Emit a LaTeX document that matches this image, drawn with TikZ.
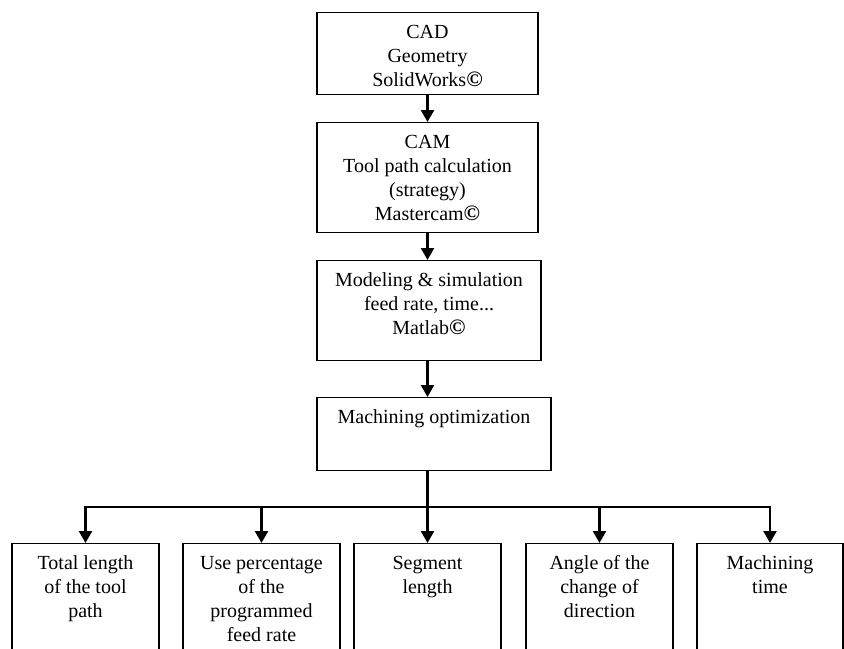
\documentclass[tikz,border=0pt]{standalone}
\usepackage{fontspec}
\setmainfont{Liberation Serif}
\usetikzlibrary{
    arrows.meta,
    positioning
}
\newcommand{\copysign}{{\bfseries\fontsize{11}{12}\selectfont ©}}
\tikzset{
    box/.style={draw, line width=0.7pt, anchor=north, inner xsep=0pt, inner ysep=4.5pt,
        font=\fontsize{10}{12}\selectfont},
    flow/.style={line width=1.2pt, -{Triangle[length=6pt, width=6.5pt]}}
}

\begin{document}
\begin{tikzpicture}[x=0.5pt, y=-0.5pt]
    \useasboundingbox (0,0) rectangle (844,648);
    \clip (0,0) rectangle (844,648);

    % main chain
    \node (cad) [box] at (427.5, 12) {\parbox[t][32pt][t]{110.5pt}{\centering\strut CAD\\Geometry\\SolidWorks\copysign}};
    \node (cam) [box] at (427.5, 122) {\parbox[t][46pt][t]{110.5pt}{\centering\strut CAM\\Tool path calculation\\(strategy)\\Mastercam\copysign}};
    \node (model) [box] at (429, 260) {\parbox[t][41pt][t]{112pt}{\centering\strut Modeling \& simulation\\feed rate, time...\\Matlab\copysign}};
    \node (opt) [box] at (434, 397) {\parbox[t][27.5pt][t]{117pt}{\centering\strut Machining optimization}};

    % criteria
    \node (total) [box] at (85.5, 543) {\parbox[t][80pt][t]{73.5pt}{\centering\strut Total length\\of the tool\\path}};
    \node (feed) [box] at (261.5, 543) {\parbox[t][80pt][t]{78.5pt}{\centering\strut Use percentage\\of the\\programmed\\feed rate}};
    \node (seg) [box] at (427.5, 543) {\parbox[t][80pt][t]{73.5pt}{\centering\strut Segment\\length}};
    \node (angle) [box] at (599.5, 543) {\parbox[t][80pt][t]{73.5pt}{\centering\strut Angle of the\\change of\\direction}};
    \node (mtime) [box] at (770, 543) {\parbox[t][80pt][t]{73pt}{\centering\strut Machining\\time}};

    \draw[flow] (cad.south) -- (cam.north);
    \draw[flow] (cam.south) -- (cam.south |- model.north);
    \draw[flow] (cam.south |- model.south) -- (cam.south |- opt.north);

    \coordinate (bus) at (428, 507);
    \draw[flow] (seg.north |- opt.south) -- (seg.north);
    \draw[flow] (bus) -| (total.north);
    \draw[flow] (bus) -| (mtime.north);
    \foreach \n in {feed, angle}
        \draw[flow] (\n.north |- bus) -- (\n.north);
\end{tikzpicture}
\end{document}
